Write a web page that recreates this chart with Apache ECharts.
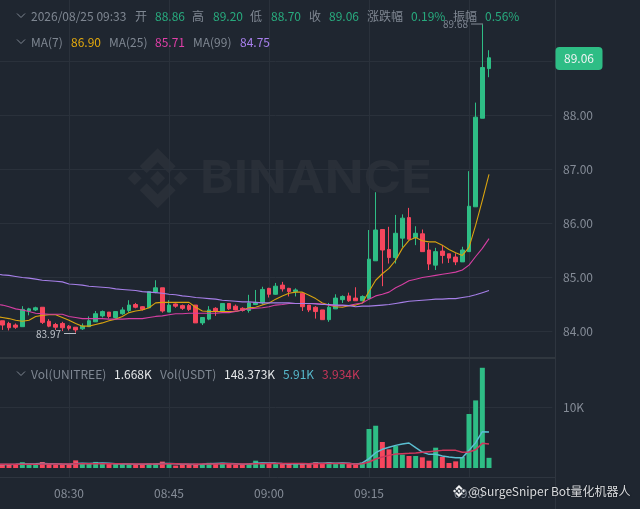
<!DOCTYPE html>
<html><head><meta charset="utf-8">
<style>html,body{margin:0;padding:0;background:#1f2630}#c{width:640px;height:509px}</style>
<script src="https://cdn.jsdelivr.net/npm/echarts@6/dist/echarts.min.js"></script>
</head><body><div id="c"></div>
<script>
const categories = ['08:19','08:20','08:21','08:22','08:23','08:24','08:25','08:26','08:27','08:28','08:29','08:30','08:31','08:32','08:33','08:34','08:35','08:36','08:37','08:38','08:39','08:40','08:41','08:42','08:43','08:44','08:45','08:46','08:47','08:48','08:49','08:50','08:51','08:52','08:53','08:54','08:55','08:56','08:57','08:58','08:59','09:00','09:01','09:02','09:03','09:04','09:05','09:06','09:07','09:08','09:09','09:10','09:11','09:12','09:13','09:14','09:15','09:16','09:17','09:18','09:19','09:20','09:21','09:22','09:23','09:24','09:25','09:26','09:27','09:28','09:29','09:30','09:31','09:32','09:33','09:34','09:35','09:36','09:37','09:38','09:39','09:40','09:41','09:42'];
const timeTicks = ['08:30','08:45','09:00','09:15','09:30'];
const priceTicks = [84,85,86,87,88,89];
const volTicks = [10000];
// open, close, low, high
const ohlc = [
[84.22,84.19,84.15,84.24],
[84.19,84.11,84.02,84.19],[84.14,84.06,84.01,84.17],[84.11,84.07,84.04,84.14],[84.08,84.40,84.08,84.46],[84.37,84.41,84.29,84.43],
[84.39,84.43,84.37,84.45],[84.44,84.16,84.13,84.44],[84.18,84.09,84.07,84.22],[84.12,84.07,84.02,84.15],[84.14,84.06,84.00,84.17],
[84.09,84.05,84.01,84.11],[84.07,84.02,83.97,84.07],[84.04,84.09,84.02,84.14],[84.08,84.19,84.08,84.27],[84.17,84.32,84.17,84.37],
[84.28,84.36,84.25,84.38],[84.35,84.27,84.23,84.35],[84.25,84.36,84.23,84.36],[84.32,84.39,84.30,84.44],[84.38,84.48,84.34,84.57],
[84.49,84.44,84.42,84.52],[84.45,84.40,84.38,84.46],[84.43,84.73,84.43,84.73],[84.72,84.80,84.70,84.94],[84.80,84.37,84.34,84.80],
[84.35,84.48,84.35,84.57],[84.50,84.46,84.43,84.51],[84.47,84.42,84.39,84.49],[84.47,84.40,84.37,84.50],[84.48,84.15,84.15,84.48],
[84.15,84.25,84.11,84.25],[84.22,84.39,84.20,84.46],[84.42,84.36,84.28,84.44],[84.36,84.51,84.36,84.51],[84.51,84.41,84.39,84.51],
[84.46,84.39,84.38,84.49],[84.42,84.38,84.36,84.44],[84.38,84.52,84.34,84.67],[84.49,84.53,84.48,84.76],[84.52,84.77,84.49,84.82],
[84.79,84.68,84.62,84.80],[84.68,84.83,84.67,84.89],[84.85,84.78,84.73,84.91],[84.79,84.73,84.64,84.80],[84.73,84.76,84.64,84.79],
[84.70,84.45,84.37,84.72],[84.48,84.39,84.35,84.48],[84.44,84.36,84.23,84.46],[84.39,84.21,84.21,84.39],[84.21,84.44,84.17,84.52],
[84.41,84.61,84.41,84.68],[84.58,84.64,84.52,84.66],[84.65,84.56,84.54,84.71],[84.61,84.56,84.56,84.81],[84.56,84.64,84.56,84.66],
[84.60,85.33,84.59,85.87],[85.30,85.87,85.30,86.57],[85.88,85.50,84.83,85.88],[85.51,85.36,85.25,85.93],[85.36,85.81,85.25,86.15],
[85.72,86.09,85.55,86.16],[86.10,85.70,85.70,86.28],[85.73,85.81,85.59,85.94],[85.80,85.47,85.47,85.88],[85.50,85.24,85.13,85.63],
[85.22,85.47,85.13,85.54],[85.48,85.40,85.25,85.59],[85.43,85.35,85.26,85.43],[85.37,85.28,85.22,85.44],[85.28,85.50,85.28,85.56],
[85.47,86.31,85.47,86.96],[86.30,87.96,86.30,88.23],[87.94,88.88,87.94,89.68],[88.86,89.06,88.70,89.20]];
const ma7 = [84.27,84.25,84.23,84.20,84.18,84.20,84.27,84.29,84.30,84.30,84.25,84.20,84.14,84.09,84.09,84.12,84.15,84.19,84.22,84.27,84.34,84.37,84.39,84.43,84.52,84.53,84.53,84.53,84.53,84.53,84.44,84.37,84.36,84.36,84.36,84.36,84.36,84.39,84.43,84.44,84.48,84.52,84.59,84.65,84.70,84.72,84.72,84.66,84.60,84.52,84.48,84.45,84.44,84.47,84.48,84.52,84.73,84.94,85.06,85.16,85.31,85.53,85.68,85.73,85.67,85.65,85.65,85.59,85.51,85.45,85.40,85.55,85.96,86.42,86.90];
const ma25 = [84.50,84.48,84.45,84.41,84.39,84.36,84.33,84.32,84.31,84.31,84.31,84.27,84.25,84.23,84.23,84.23,84.23,84.22,84.22,84.22,84.23,84.23,84.23,84.25,84.27,84.28,84.30,84.32,84.32,84.33,84.33,84.33,84.33,84.33,84.34,84.34,84.36,84.39,84.41,84.42,84.43,84.45,84.48,84.49,84.51,84.51,84.51,84.51,84.51,84.50,84.48,84.47,84.47,84.47,84.50,84.52,84.59,84.65,84.68,84.72,84.80,84.86,84.93,84.96,84.99,85.01,85.03,85.05,85.07,85.09,85.13,85.22,85.38,85.53,85.71];
const ma99 = [85.06,85.04,85.03,85.01,84.99,84.98,84.96,84.94,84.93,84.92,84.91,84.87,84.86,84.85,84.83,84.82,84.81,84.80,84.78,84.77,84.76,84.75,84.73,84.72,84.71,84.70,84.68,84.67,84.65,84.64,84.62,84.61,84.60,84.59,84.57,84.56,84.55,84.54,84.54,84.53,84.52,84.52,84.52,84.52,84.52,84.51,84.51,84.51,84.50,84.49,84.49,84.48,84.48,84.47,84.45,84.46,84.46,84.47,84.48,84.49,84.51,84.53,84.55,84.56,84.57,84.58,84.59,84.59,84.60,84.60,84.62,84.64,84.67,84.71,84.75];
const volume = [600,600,650,500,950,650,500,980,650,550,600,600,1250,650,700,1000,700,650,650,600,650,520,550,760,780,1050,700,400,600,550,700,650,850,650,850,650,550,550,750,1200,850,700,650,650,650,800,700,650,950,750,950,700,850,650,750,870,6390,6930,4260,3060,3600,2180,1970,1970,1750,1200,3330,1800,820,1090,1800,8850,11080,16430,1668];
const volMa5 = [550,560,580,600,640,660,680,720,700,680,640,620,720,760,720,760,800,760,700,660,640,620,600,620,640,720,740,700,620,600,580,620,680,720,760,740,680,620,640,780,820,840,800,720,660,680,700,700,760,760,800,780,800,760,600,820,1530,2510,3060,3390,3710,3930,4100,3330,2620,2240,2240,1970,1800,1690,1690,2890,4150,5950,5910];
const volMa10 = [600,600,610,600,610,620,630,640,650,650,660,660,680,690,680,690,700,700,700,680,670,650,640,640,640,660,680,680,660,640,630,640,650,660,680,680,670,650,650,680,700,720,730,730,720,720,720,710,710,720,730,730,740,730,600,710,980,1470,1800,2070,2290,2350,2400,2460,2570,2680,2780,2890,2890,2890,2570,2620,3000,4040,3934];
const lastPrice = '89.06';
const highLabel = '89.68';
const lowLabel = '83.97';

const BG='#1f2630', GRID='#2a313b', SEP='#30373f', AXIS='#858c97', LABEL='#7f8792';
const UP='#2ebd85', DOWN='#f6465d', UPTXT='#28ab7e';
const WM='#292f38';
const FONT='"Noto Sans CJK SC","Noto Sans",sans-serif';

// legend strings with their left edge
const legendRows = [
 {y:16.5, items:[['2026/08/25 09:33',31,LABEL],['开',135,LABEL],['88.86',155,UPTXT],['高',192,LABEL],['89.20',213,UPTXT],['低',250,LABEL],['88.70',271,UPTXT],['收',309,LABEL],['89.06',329,UPTXT],['涨跌幅',367,LABEL],['0.19%',411,UPTXT],['振幅',453,LABEL],['0.56%',485,UPTXT]]},
 {y:42.5, items:[['MA(7)',31,LABEL],['86.90',71,'#e3a90d'],['MA(25)',109,LABEL],['85.71',155,'#e03fa8'],['MA(99)',193,LABEL],['84.75',240,'#a980ee']]},
 {y:374.5, items:[['Vol(UNITREE)',31,LABEL],['1.668K',114,'#e6e8ea'],['Vol(USDT)',160,LABEL],['148.373K',224,'#e6e8ea'],['5.91K',283,'#56b9cc'],['3.934K',322,'#c5365a']]}
];
const graphics = [];
legendRows.forEach(r=>{
  r.items.forEach(t=>graphics.push({type:'text',x:t[1],y:r.y,z:50,silent:true,style:{text:t[0],fill:t[2],font:'12px '+FONT,textVerticalAlign:'middle'}}));
  graphics.push({type:'polyline',z:50,silent:true,shape:{points:[[17,r.y-3],[21,r.y+1],[25,r.y-3]]},style:{stroke:'#7f8792',lineWidth:1,fill:null}});
});
function logo(cx,cy,s,fill,z){
  const poly=p=>graphics.push({type:'polygon',z:z,silent:true,shape:{points:p.map(q=>[cx+q[0]*s,cy+q[1]*s])},style:{fill:fill}});
  const dia=(dx,dy,h)=>poly([[dx,dy-h],[dx+h,dy],[dx,dy+h],[dx-h,dy]]);
  dia(0,0,7.5);dia(-23,0,7);dia(23,0,7);
  poly([[0,-30],[18,-12],[11,-5],[0,-16],[-11,-5],[-18,-12]]);
  poly([[0,30],[18,12],[11,5],[0,16],[-11,5],[-18,12]]);
}
logo(157.7,178.3,1,WM,0);
graphics.push({type:'text',x:200,y:179.5,scaleX:1.13,z:0,silent:true,style:{text:'BINANCE',fill:WM,font:'700 45px Inter,"Open Sans",sans-serif',textVerticalAlign:'middle'}});
// axes chrome
[[[555.5,0],[555.5,509]],[[0,358],[555.5,358]],[[0,477.5],[555.5,477.5]]].forEach((l,i)=>graphics.push({type:'line',z:1,silent:true,shape:{x1:l[0][0],y1:l[0][1],x2:l[1][0],y2:l[1][1]},style:{stroke:i==1?SEP:'#2e353f',lineWidth:i==1?2:1}}));
// last price tag
graphics.push({type:'rect',z:60,silent:true,shape:{x:555.5,y:47,width:47,height:23,r:4},style:{fill:'#2ebd85'}});
graphics.push({type:'text',x:579,y:58.7,z:61,silent:true,style:{text:lastPrice,fill:'#f0f3f4',font:'12px '+FONT,textAlign:'center',textVerticalAlign:'middle'}});
// high / low annotation
graphics.push({type:'text',x:443,y:24.3,z:60,silent:true,style:{text:highLabel,fill:'#7d8490',font:'10px '+FONT,textVerticalAlign:'middle'}});
graphics.push({type:'line',z:60,silent:true,shape:{x1:471,y1:24,x2:483,y2:24},style:{stroke:'#858c97',lineWidth:1}});
graphics.push({type:'text',x:36,y:334,z:60,silent:true,style:{text:lowLabel,fill:'#c0c5cc',font:'10px '+FONT,textVerticalAlign:'middle'}});
graphics.push({type:'line',z:60,silent:true,shape:{x1:64,y1:333.5,x2:76,y2:333.5},style:{stroke:'#b7bdc6',lineWidth:1}});
// attribution
logo(459,491,0.2,'#f2f3f4',70);
graphics.push({type:'text',x:468.5,y:491,z:70,silent:true,style:{text:'@SurgeSniper Bot量化机器人',fill:'#d9dbde',font:'12px '+FONT,textVerticalAlign:'middle',textShadowColor:'rgba(0,0,0,.5)',textShadowBlur:2}});

const w = categories.length*20/3;
const left = -23/3;
const showTime = (i,v)=>timeTicks.includes(v);
const lineS = (name,data,color,x,y,lw)=>({name,type:'line',data,xAxisIndex:x,yAxisIndex:y,showSymbol:false,symbol:'none',silent:true,z:5,
  lineStyle:{color,width:lw},itemStyle:{color}});

const option = {
  animation:false, backgroundColor:BG, graphic:{elements:graphics},
  grid:[{left:left,top:0,width:w,height:358,outerBoundsMode:'none'},{left:left,top:359,width:w,height:118,outerBoundsMode:'none'}],
  xAxis:[
    {type:'category',gridIndex:0,data:categories,axisLine:{show:false},axisTick:{show:false},axisLabel:{show:false},
     splitLine:{show:true,alignWithLabel:true,interval:showTime,lineStyle:{color:GRID,width:1}}},
    {type:'category',gridIndex:1,data:categories,axisLine:{show:false},axisTick:{show:false},
     axisLabel:{interval:showTime,color:AXIS,fontFamily:FONT,fontSize:12,margin:10},
     splitLine:{show:true,alignWithLabel:true,interval:showTime,lineStyle:{color:GRID,width:1}}}
  ],
  yAxis:[
    {type:'value',gridIndex:0,position:'right',min:83.5,max:90.13,scale:true,axisLine:{show:false},axisTick:{show:false,customValues:priceTicks},
     axisLabel:{customValues:priceTicks,color:AXIS,fontFamily:FONT,fontSize:12,margin:10.7,formatter:v=>v.toFixed(2)},
     splitLine:{show:true,lineStyle:{color:GRID,width:1}}},
    {type:'value',gridIndex:1,position:'right',min:-1475,max:17870,axisLine:{show:false},axisTick:{show:false,customValues:volTicks},
     axisLabel:{customValues:volTicks,color:AXIS,fontFamily:FONT,fontSize:12,margin:10.7,formatter:v=>(v/1000)+'K'},
     splitLine:{show:true,lineStyle:{color:GRID,width:1}}}
  ],
  series:[
    {name:'K',type:'candlestick',data:ohlc,xAxisIndex:0,yAxisIndex:0,barWidth:4,z:3,silent:true,
     itemStyle:{color:UP,color0:DOWN,borderColor:UP,borderColor0:DOWN,borderWidth:1}},
    lineS('MA7',ma7,'#d9a30f',0,0,1.1),
    lineS('MA25',ma25,'#d63fa3',0,0,1.1),
    lineS('MA99',ma99,'#a67fe8',0,0,1.1),
    {name:'Vol',type:'bar',xAxisIndex:1,yAxisIndex:1,barWidth:5,z:3,silent:true,
     data:volume.map((v,i)=>({value:v,itemStyle:{color:ohlc[i][1]>=ohlc[i][0]?UP:DOWN}}))},
    lineS('VolMA5',volMa5,'#5bbfd2',1,1,1.5),
    lineS('VolMA10',volMa10,'#d0365c',1,1,1.5)
  ]
};
echarts.init(document.getElementById('c'),null,{renderer:'canvas'}).setOption(option);
</script></body></html>
